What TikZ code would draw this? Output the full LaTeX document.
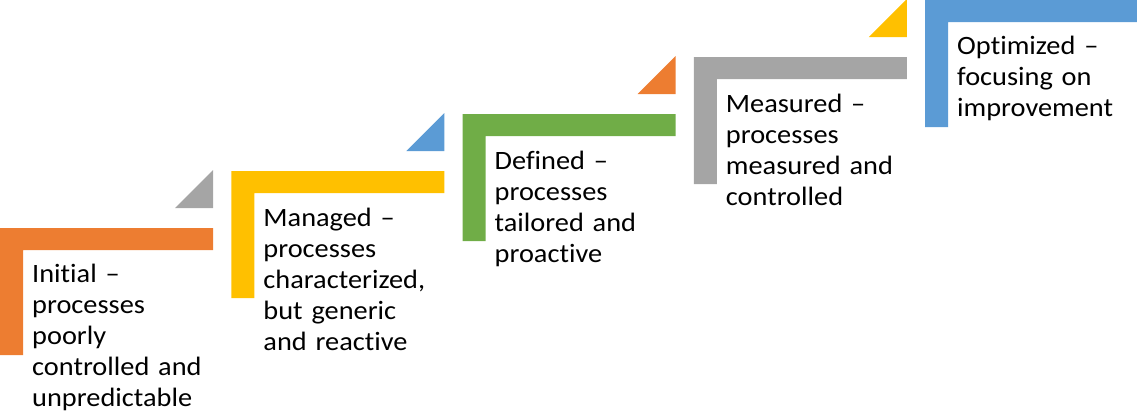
\documentclass[tikz,border=0pt]{standalone}
\usepackage{fontspec}
\setmainfont{Carlito}[Ligatures=NoCommon, FakeStretch=1.07]
\definecolor{steporange}{HTML}{ED7D31}
\definecolor{stepyellow}{HTML}{FFC000}
\definecolor{stepgreen}{HTML}{70AD47}
\definecolor{stepgray}{HTML}{A5A5A5}
\definecolor{stepblue}{HTML}{5B9BD5}
\begin{document}
\begin{tikzpicture}[x=1pt, y=-1pt,
		stepbar/.style={fill=#1},
		cornerstyle/.style={fill=#1},
		labelstyle/.style={anchor=base west, inner sep=0pt, text width=200pt, align=left,
			font=\fontsize{26.5}{31}\selectfont}]
		\useasboundingbox (0,0) rectangle (1137,413);

		\foreach \i/\col in {0/steporange, 1/stepyellow, 2/stepgreen, 3/stepgray, 4/stepblue}
			\fill [stepbar=\col] ({\i*231.25},{228-\i*57}) -- ++(213,0) -- ++(0,22) -- ++(-190,0) -- ++(0,105) -- ++(-23,0) -- cycle;

		\foreach \i/\col in {0/stepgray, 1/stepblue, 2/steporange, 3/stepyellow}
			\fill [cornerstyle=\col] ({\i*231.25+213},{208-\i*57}) -- ++(0,-38) -- ++(-38,38) -- cycle;

		\node [labelstyle] (initial) at (32,282) {Initial –\\processes\\poorly\\controlled and\\unpredictable};
		\node [labelstyle] (managed) at (263.25,226) {Managed –\\processes\\characterized,\\but generic\\and reactive};
		\node [labelstyle] (defined) at (494.5,169) {Defined –\\processes\\tailored and\\proactive};
		\node [labelstyle] (measured) at (725.75,112) {Measured –\\processes\\measured and\\controlled};
		\node [labelstyle] (optimized) at (957,54) {Optimized –\\focusing on\\improvement};
		\end{tikzpicture}
\end{document}
